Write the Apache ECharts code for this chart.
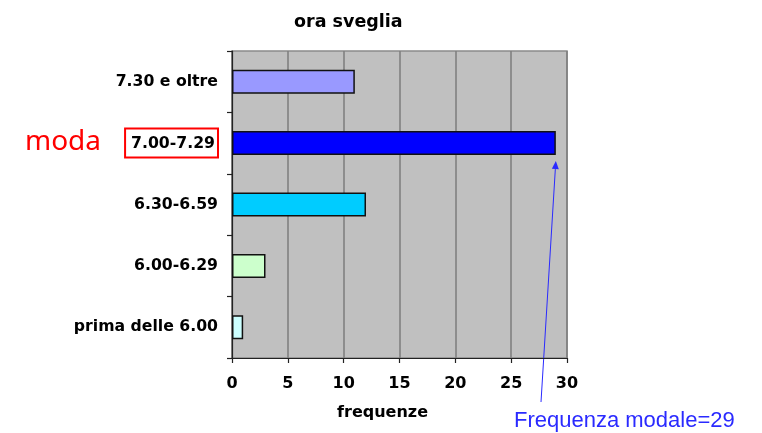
<!DOCTYPE html>
<html>
<head>
<meta charset="utf-8">
<script src="https://cdn.jsdelivr.net/npm/echarts@6/dist/echarts.min.js"></script>
<style>
  html, body { margin: 0; padding: 0; background: #fff; }
  #chart { width: 762px; height: 433px; }
</style>
</head>
<body>
<div id="chart"></div>
<script>
// Wake-up time classes (bottom to top) and their frequencies
const categories = ['prima delle 6.00', '6.00-6.29', '6.30-6.59', '7.00-7.29', '7.30 e oltre'];
const frequencies = [1, 3, 12, 29, 11];
const barColors = ['#ccffff', '#ccffcc', '#00ccff', '#0000ff', '#9999ff'];
const xTicks = { min: 0, max: 30, step: 5 };
const modeClass = '7.00-7.29';
const modeValue = 29;

const boldFont = 'DejaVu Sans';

const chart = echarts.init(document.getElementById('chart'), null, { renderer: 'canvas' });

chart.setOption({
  animation: false,
  backgroundColor: '#ffffff',
  title: {
    text: 'ora sveglia',
    left: 289,
    top: 8,
    textStyle: { fontFamily: boldFont, fontWeight: 'bold', fontSize: 17.5, color: '#000' }
  },
  grid: {
    left: 232, top: 51, width: 335, height: 307,
    show: true,
    backgroundColor: '#c0c0c0',
    borderColor: '#8a8a8a',
    borderWidth: 1.5
  },
  xAxis: {
    type: 'value',
    min: xTicks.min,
    max: xTicks.max,
    interval: xTicks.step,
    name: 'frequenze',
    nameLocation: 'middle',
    nameGap: 47,
    nameTextStyle: {
      fontFamily: boldFont, fontWeight: 'bold', fontSize: 16, color: '#000',
      padding: [0, 34, 0, 0]
    },
    axisLine: { show: true, lineStyle: { color: '#222', width: 1.2 } },
    axisTick: { show: true, inside: false, length: 5, lineStyle: { color: '#222', width: 1.2 } },
    axisLabel: { margin: 18, fontFamily: boldFont, fontWeight: 'bold', fontSize: 16, color: '#000' },
    splitLine: { show: true, lineStyle: { color: '#808080', width: 1.6 } }
  },
  yAxis: {
    type: 'category',
    data: categories,
    axisLine: { show: true, lineStyle: { color: '#222', width: 1.2 } },
    axisTick: { show: true, inside: false, length: 5, alignWithLabel: false, lineStyle: { color: '#222', width: 1.2 } },
    splitLine: { show: false },
    axisLabel: {
      margin: 14,
      fontFamily: boldFont,
      fontWeight: 'bold',
      fontSize: 15.7,
      color: '#000',
      formatter: function (v) { return v === modeClass ? '{box|' + v + '}' : v; },
      rich: {
        box: {
          fontFamily: boldFont,
          fontWeight: 'bold',
          fontSize: 15.7,
          color: '#000',
          borderColor: '#ff0000',
          borderWidth: 2,
          padding: [7, 3, 6, 6]
        }
      }
    }
  },
  series: [{
    type: 'bar',
    data: frequencies.map((v, i) => ({ value: v, itemStyle: { color: barColors[i] } })),
    barWidth: 24,
    itemStyle: { borderColor: '#111', borderWidth: 1.5 }
  }]
});

// Arrow pointing at the end of the modal bar, with its caption
const tip = chart.convertToPixel({ gridIndex: 0 }, [modeValue, modeClass]);
const tipX = tip[0];
const tipY = tip[1] + 18;
const tailX = 541, tailY = 402;
const ang = Math.atan2(tipY - tailY, tipX - tailX);
const headLen = 8, headHalf = 3.5;
const bx = tipX - headLen * Math.cos(ang), by = tipY - headLen * Math.sin(ang);
const nx = -Math.sin(ang), ny = Math.cos(ang);
const arrowBlue = '#2a2aff';

chart.setOption({
  graphic: [
    {
      type: 'line',
      shape: { x1: tailX, y1: tailY, x2: bx, y2: by },
      style: { stroke: arrowBlue, lineWidth: 1 }
    },
    {
      type: 'polygon',
      shape: { points: [[tipX, tipY], [bx + nx * headHalf, by + ny * headHalf], [bx - nx * headHalf, by - ny * headHalf]] },
      style: { fill: arrowBlue }
    },
    {
      type: 'text',
      left: 514,
      top: 410,
      style: { text: 'Frequenza modale=' + modeValue, fill: arrowBlue, font: '22px "Liberation Sans", Arial, sans-serif' }
    },
    {
      type: 'text',
      left: 25,
      top: 128,
      style: { text: 'moda', fill: '#ff0000', font: '28px "Noto Sans", sans-serif' }
    }
  ]
});
</script>
</body>
</html>
